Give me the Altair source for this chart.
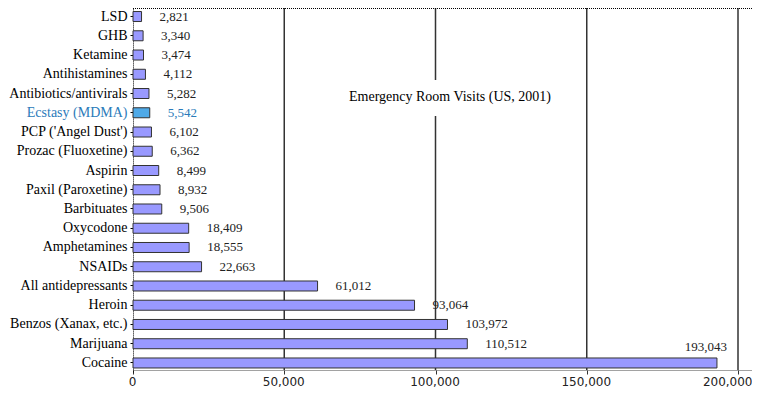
import altair as alt
import pandas as pd

drugs = ["LSD", "GHB", "Ketamine", "Antihistamines", "Antibiotics/antivirals",
         "Ecstasy (MDMA)", "PCP ('Angel Dust')", "Prozac (Fluoxetine)", "Aspirin",
         "Paxil (Paroxetine)", "Barbituates", "Oxycodone", "Amphetamines", "NSAIDs",
         "All antidepressants", "Heroin", "Benzos (Xanax, etc.)", "Marijuana", "Cocaine"]
visits = [2821, 3340, 3474, 4112, 5282, 5542, 6102, 6362, 8499, 8932, 9506,
          18409, 18555, 22663, 61012, 93064, 103972, 110512, 193043]
tick_values = [0, 50000, 100000, 150000, 200000]
grid_values = [50000, 100000, 150000, 200000]
highlight = "Ecstasy (MDMA)"
title_text = ["Emergency Room Visits (US, 2001)"]

df = pd.DataFrame({"drug": drugs, "visits": visits})
df["label"] = df["visits"].map(lambda v: f"{v:,}")
grid_df = pd.DataFrame({"g": grid_values})
one_df = pd.DataFrame({"t": title_text})

W, H = 619, 362
SERIF = "Times New Roman, Liberation Serif, Times, serif"
BLUE_TXT = "#2b7bba"
BAR = "#9999ff"
BAR_HI = "#4faae8"

xscale = alt.Scale(domain=[0, 204628], nice=False, zero=True)
yscale = alt.Scale(domain=drugs, range=[-1.1, 364.6], paddingInner=0, paddingOuter=0)

is_hi = alt.datum.drug == highlight

xaxis = alt.Axis(values=tick_values, format=",d", labelFont="DejaVu Sans",
                 labelFontSize=12, labelColor="#222222", labelFlush=False,
                 labelAlign=alt.expr("datum.value == 200000 ? 'right' : 'center'"),
                 labelOffset=alt.expr("datum.value == 200000 ? 14 : -1"),
                 domainDash=[1, 1], domainColor="#444444", tickColor="#333333",
                 tickSize=4, labelPadding=2, grid=False, title=None)

grid = alt.Chart(grid_df).mark_rule(color="#333333", strokeWidth=1.5).encode(
    x=alt.X("g:Q", scale=xscale, axis=xaxis)
)

cover = alt.Chart(one_df).mark_rect(color="white").encode(
    x=alt.value(212), x2=alt.value(422), y=alt.value(72), y2=alt.value(108)
)

bars = alt.Chart(df).mark_bar(size=10, stroke="#333333", strokeWidth=1).encode(
    y=alt.Y("drug:N", sort=drugs, scale=yscale, title=None,
            axis=alt.Axis(labelFont=SERIF, labelFontSize=14,
                          labelColor=alt.expr(f"datum.value == '{highlight}' ? '{BLUE_TXT}' : 'black'"),
                          domainDash=[1, 1], domainColor="black", tickColor="black",
                          tickSize=3, labelPadding=3)),
    x=alt.X("visits:Q", scale=xscale, axis=xaxis),
    color=alt.condition(is_hi, alt.value(BAR_HI), alt.value(BAR)),
)

labels = alt.Chart(df).transform_filter(alt.datum.visits < 150000).mark_text(
    align="left", baseline="middle", dx=18, font=SERIF, fontSize=13
).encode(
    y=alt.Y("drug:N", sort=drugs, scale=yscale),
    x=alt.X("visits:Q", scale=xscale),
    text="label:N",
    color=alt.condition(is_hi, alt.value(BLUE_TXT), alt.value("#222222")),
)

top_label = alt.Chart(df).transform_filter(alt.datum.visits >= 150000).mark_text(
    align="center", baseline="middle", dx=-11, dy=-16, font=SERIF,
    fontSize=13, color="#222222"
).encode(
    y=alt.Y("drug:N", sort=drugs, scale=yscale),
    x=alt.X("visits:Q", scale=xscale),
    text="label:N",
)

title = alt.Chart(one_df).mark_text(
    font=SERIF, fontSize=14, color="black", align="center", baseline="middle"
).encode(x=alt.value(317), y=alt.value(89), text="t:N")

border = alt.Chart(one_df).mark_rule(color="black", strokeDash=[1, 1], strokeWidth=1).encode(
    x=alt.value(0), x2=alt.value(W), y=alt.value(0.5)
)

chart = alt.layer(grid, cover, bars, labels, top_label, title, border).properties(
    width=W, height=H,
    autosize=alt.AutoSizeParams(type="none"),
    padding={"left": 125, "top": 0, "right": 0, "bottom": 19},
).configure_view(stroke=None)

chart.save("out.html", embed_options={"renderer": "svg", "actions": False})
